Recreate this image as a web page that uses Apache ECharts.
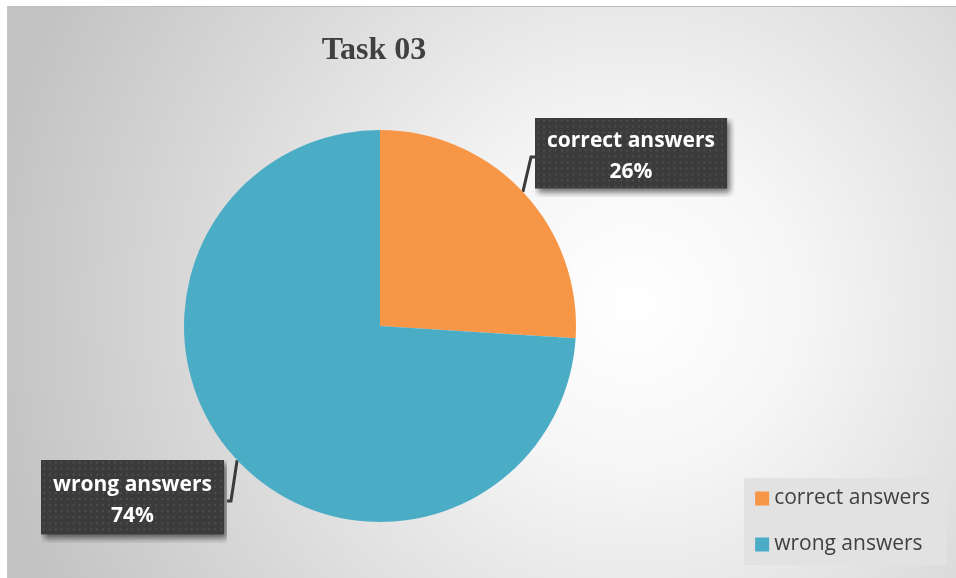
<!DOCTYPE html>
<html>
<head>
<meta charset="utf-8">
<script src="https://cdn.jsdelivr.net/npm/echarts@6/dist/echarts.min.js"></script>
<style>
  html, body { margin: 0; padding: 0; background: #ffffff; }
  #chart {
    position: absolute; left: 7px; top: 6px; width: 949px; height: 572px;
    border-top: 1px solid #bdbdbd; border-left: 1px solid #c4c4c4; box-sizing: border-box;
  }
</style>
</head>
<body>
<div id="chart"></div>
<script>
// Task 03 results
const categories = ['correct answers', 'wrong answers'];
const shares = [26, 74];
const sliceColors = ['#F79646', '#4BACC6'];
const titleText = 'Task 03';

// callout box centres (chart-local pixels, box incl. shadow margin)
const calloutCenters = [[627, 150], [126, 494]];
// box size and shadow margin (right, bottom) per callout
const boxSizes = [[194, 71], [186, 74]];
const shadowPads = [[8, 8], [3, 8]];

// dotted dark fill for a callout box, with a soft drop shadow in the margin
function dottedFill(w, h, padR, padB) {
  const cv = document.createElement('canvas');
  cv.width = w + padR; cv.height = h + padB;
  const g = cv.getContext('2d');
  g.save();
  g.shadowColor = 'rgba(0,0,0,0.55)';
  g.shadowBlur = 6;
  g.shadowOffsetX = Math.min(3, padR);
  g.shadowOffsetY = 4;
  g.fillStyle = '#3b3b3b';
  g.fillRect(0, 0, w, h);
  g.restore();
  g.fillStyle = '#4d4d4d';
  for (let y = 2; y < h - 1; y += 6) {
    for (let x = 2; x < w - 1; x += 6) {
      g.fillRect(x, y, 2, 2);
    }
  }
  return cv;
}

const chart = echarts.init(document.getElementById('chart'), null, { renderer: 'canvas' });

const pieData = categories.map((name, i) => {
  const [padR, padB] = shadowPads[i];
  const top = i === 0 ? 7 : 9;
  const bottom = i === 0 ? 2 : 4;
  return {
    name: name,
    value: shares[i],
    itemStyle: { color: sliceColors[i] },
    label: {
      backgroundColor: { image: dottedFill(boxSizes[i][0], boxSizes[i][1], padR, padB) },
      padding: [top, 12 + padR, bottom + padB, 12]
    }
  };
});

chart.setOption({
  backgroundColor: {
    type: 'radial', x: 0.66, y: 0.52, r: 1.15,
    colorStops: [
      { offset: 0, color: '#ffffff' },
      { offset: 0.25, color: '#f6f6f6' },
      { offset: 1, color: '#c2c2c2' }
    ]
  },
  animation: false,
  title: {
    text: titleText,
    left: 361, top: 23,
    textAlign: 'center',
    textStyle: {
      fontFamily: '"Liberation Serif", "Times New Roman", serif',
      fontWeight: 'bold', fontSize: 32, color: '#404040'
    }
  },
  legend: {
    orient: 'vertical',
    right: 9, bottom: 13,
    data: categories,
    icon: 'rect',
    itemWidth: 14, itemHeight: 14,
    itemGap: 25,
    padding: [10, 17, 10, 11],
    backgroundColor: '#e2e2e2',
    textStyle: { fontFamily: '"Open Sans", "Noto Sans", sans-serif', fontSize: 21, color: '#404040' }
  },
  series: [{
    type: 'pie',
    center: [372, 319],
    radius: 196,
    startAngle: 90,
    clockwise: true,
    data: pieData,
    label: {
      show: true,
      formatter: '{b}\n{d}%',
      fontFamily: '"Open Sans", Lato, sans-serif',
      fontWeight: 'bold',
      fontSize: 21,
      lineHeight: 31,
      color: '#ffffff',
      align: 'center'
    },
    labelLine: {
      show: true,
      length: 4, length2: 4,
      lineStyle: { color: '#3b3b3b', width: 3 }
    },
    labelLayout: function (params) {
      const c = calloutCenters[params.dataIndex];
      return { x: c[0], y: c[1], align: 'center', verticalAlign: 'middle' };
    },
    emphasis: { disabled: true }
  }]
});
</script>
</body>
</html>
